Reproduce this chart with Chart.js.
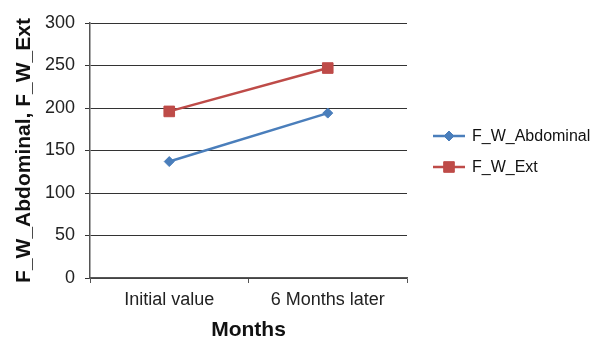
<!DOCTYPE html>
<html>
<head>
<meta charset="utf-8">
<script src="https://cdn.jsdelivr.net/npm/chart.js@4/dist/chart.umd.min.js"></script>
<style>
  html, body { margin: 0; padding: 0; background: #fff; }
  #wrap { width: 598px; height: 339px; position: relative; }
</style>
</head>
<body>
<div id="wrap"><canvas id="c" width="598" height="339"></canvas></div>
<script>
// Measurement periods
const categories = ['Initial value', '6 Months later'];
// Series values
const abdominal = [137, 194];
const ext = [196, 247];
// Y axis ticks
const yTicks = [0, 50, 100, 150, 200, 250, 300];

const BLUE = '#4A7EBB';
const RED = '#BE4B48';
const FONT = "'Liberation Sans', Arial, sans-serif";

// Legend on the right: a short line sample with the series marker, then the name
const sideLegend = {
  id: 'sideLegend',
  afterDraw(chart) {
    const ctx = chart.ctx;
    const ds = chart.data.datasets;
    const ys = [136, 167];
    ctx.save();
    ds.forEach((d, i) => {
      const y = ys[i];
      ctx.strokeStyle = d.borderColor;
      ctx.lineWidth = 2.5;
      ctx.beginPath();
      ctx.moveTo(433, y);
      ctx.lineTo(465, y);
      ctx.stroke();
      ctx.fillStyle = d.pointBackgroundColor;
      ctx.strokeStyle = d.pointBorderColor;
      ctx.lineWidth = 1;
      Chart.helpers.drawPoint(ctx, {
        pointStyle: d.pointStyle,
        radius: d.pointStyle === 'rect' ? 7.5 : 5,
        borderWidth: 1
      }, 449, y);
      ctx.fillStyle = '#111';
      ctx.font = '16px ' + FONT;
      ctx.textBaseline = 'middle';
      ctx.textAlign = 'left';
      ctx.fillText(d.label, 472, y + 1);
    });
    ctx.restore();
  }
};

new Chart(document.getElementById('c'), {
  type: 'line',
  data: {
    labels: categories,
    datasets: [
      {
        label: 'F_W_Abdominal',
        data: abdominal,
        borderColor: BLUE,
        backgroundColor: BLUE,
        borderWidth: 2.5,
        pointStyle: 'rectRot',
        pointRadius: 5,
        pointBorderWidth: 1,
        pointBorderColor: BLUE,
        pointBackgroundColor: BLUE,
        tension: 0
      },
      {
        label: 'F_W_Ext',
        data: ext,
        borderColor: RED,
        backgroundColor: RED,
        borderWidth: 2.5,
        pointStyle: 'rect',
        pointRadius: 7.5,
        pointBorderWidth: 1,
        pointBorderColor: RED,
        pointBackgroundColor: RED,
        tension: 0
      }
    ]
  },
  options: {
    responsive: false,
    animation: false,
    layout: { padding: { left: 0, right: 191, top: 23, bottom: 0 } },
    plugins: {
      legend: { display: false },
      tooltip: { enabled: false }
    },
    scales: {
      x: {
        type: 'category',
        offset: true,
        afterFit(scale) { scale.height = 61; },
        grid: {
          offset: true,
          drawOnChartArea: false,
          drawTicks: true,
          tickLength: 5,
          color: '#555',
          lineWidth: 1
        },
        border: { display: true, color: '#555', width: 1.5 },
        ticks: {
          color: '#222',
          font: { family: FONT, size: 18 },
          padding: 6,
          maxRotation: 0
        },
        title: {
          display: true,
          text: 'Months',
          color: '#111',
          font: { family: FONT, size: 21, weight: 'bold', lineHeight: 0.8 },
          padding: { top: 0, bottom: 0 }
        }
      },
      y: {
        min: 0,
        max: 300,
        afterFit(scale) { scale.width = 90; },
        afterBuildTicks(scale) { scale.ticks = yTicks.map(v => ({ value: v })); },
        grid: {
          color: '#333',
          lineWidth: 1,
          drawTicks: true,
          tickLength: 5
        },
        border: { display: true, color: '#555', width: 1.5 },
        ticks: {
          color: '#222',
          font: { family: FONT, size: 18 },
          padding: 10
        },
        title: {
          display: true,
          text: 'F_W_Abdominal, F_W_Ext',
          color: '#111',
          font: { family: FONT, size: 21, weight: 'bold', lineHeight: 1 },
          padding: { top: 14, bottom: 0 }
        }
      }
    }
  },
  plugins: [sideLegend]
});
</script>
</body>
</html>
